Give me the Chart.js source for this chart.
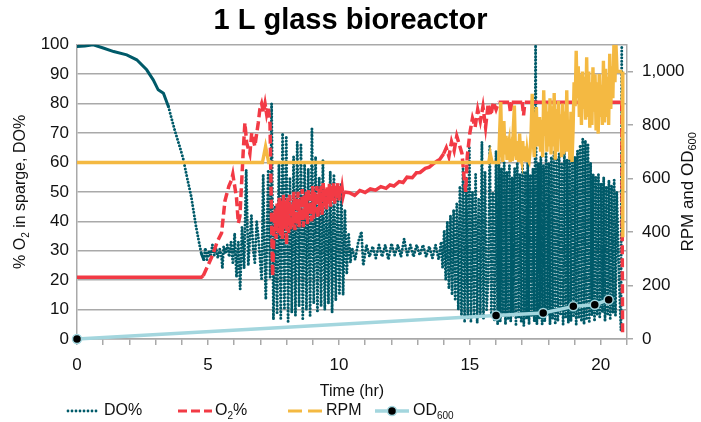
<!DOCTYPE html>
<html>
<head>
<meta charset="utf-8">
<script src="https://cdn.jsdelivr.net/npm/chart.js@4/dist/chart.umd.min.js"></script>
<style>
  html, body { margin: 0; background: #fff; }
</style>
</head>
<body>
<canvas id="chart" width="701" height="422"></canvas>
<script>
// DO% (left axis)
const doTime = [
  0, 0.3, 0.62, 1.0, 1.4, 1.9, 2.28, 2.66, 2.91, 3.1, 3.3, 3.49, 3.73, 3.9, 4.05, 4.2, 4.36, 4.55, 4.68, 4.75, 4.84,
  4.9, 4.96, 5.03, 5.1, 5.17, 5.24, 5.31, 5.38, 5.45, 5.52, 5.55, 5.6, 5.67, 5.74, 5.81, 5.88,
  5.95, 6.02, 6.09, 6.16, 6.23, 6.3, 6.38, 6.46, 6.54, 6.6, 6.66, 6.73, 6.79, 6.86, 6.92, 6.99, 7.05, 7.11, 7.16, 7.21, 7.3, 7.37, 7.43, 7.5,
  7.57, 7.64, 7.71, 7.78, 7.85, 7.92, 7.99, 8.06, 8.13, 8.2,
  8.27, 8.34, 8.41, 8.48, 8.55, 8.62, 8.69, 8.76, 8.83, 8.9,
  8.97, 9.04, 9.11, 9.18, 9.25, 9.32, 9.39, 9.46, 9.53, 9.6,
  9.67, 9.74, 9.81, 9.88, 9.95, 10.02, 10.09, 10.16, 10.23, 10.3,
  10.37, 10.44,
  10.5, 10.62, 10.74, 10.86, 10.93, 11.05, 11.17, 11.29, 11.41, 11.53,
  11.65, 11.77, 11.89, 12.01, 12.13, 12.25, 12.37, 12.49, 12.61, 12.73,
  12.85, 12.97, 13.09, 13.21, 13.33, 13.45, 13.57, 13.69, 13.81, 13.9,
  13.96, 14.02, 14.08, 14.14, 14.2, 14.26, 14.32, 14.38, 14.44, 14.5,
  14.56, 14.62, 14.68, 14.74, 14.8, 14.86, 14.92, 14.98, 15.04, 15.1,
  15.16, 15.22, 15.28, 15.34, 15.4, 15.46, 15.52, 15.58, 15.64, 15.7,
  15.76, 15.82, 15.88, 15.94, 16.0, 16.06,
  16.11, 16.16, 16.21, 16.26, 16.31, 16.36, 16.41, 16.46, 16.51, 16.56,
  16.61, 16.66, 16.71, 16.76, 16.81, 16.86, 16.91, 16.96, 17.01, 17.06,
  17.11, 17.16, 17.21, 17.26, 17.31, 17.36, 17.41, 17.46, 17.51, 17.56,
  17.61, 17.66, 17.71, 17.76, 17.81, 17.86, 17.91, 17.96, 18.01, 18.06,
  18.11, 18.16, 18.21, 18.26, 18.31, 18.36, 18.41, 18.46, 18.51, 18.56,
  18.61, 18.66, 18.71, 18.76, 18.81, 18.86, 18.91, 18.96, 19.01, 19.06,
  19.11, 19.16, 19.21, 19.26, 19.31, 19.36, 19.41, 19.46, 19.51, 19.56,
  19.61, 19.66, 19.71, 19.76, 19.81, 19.86, 19.91, 19.96, 20.01, 20.06,
  20.11, 20.16, 20.21, 20.26, 20.31, 20.36, 20.41, 20.46, 20.51, 20.56,
  20.61, 20.7, 20.77, 20.8
];
const doPct = [
  99.4, 99.6, 100, 98.9, 97.7, 96.6, 94.9, 91.5, 88.1, 84.7, 83.5, 79, 71, 66, 61.5, 55, 48.5, 38, 32, 29, 27,
  31, 27, 30, 28, 32, 28.5, 31, 27.5, 30.5, 28, 24, 31.5, 29, 32, 28, 33,
  26, 36, 21, 33, 17, 38, 24, 57.5, 25, 34, 42, 30, 26, 40, 35, 27, 20, 56, 30, 13.5, 57.5, 21, 80, 6.6,
  45, 9, 60, 7, 70, 10, 69, 6, 55, 9,
  62, 8, 67, 11, 66, 7, 60, 10, 58, 8,
  71.5, 12, 62, 9, 55, 11, 61, 10, 50, 12,
  57, 9, 56, 13, 48, 15, 53, 15, 44, 22,
  36, 26,
  31, 27, 33, 36.5, 25, 32, 28, 31.5, 27.5, 32,
  28, 32, 27, 32.5, 28.5, 32, 28, 34, 28.5, 32,
  28, 32, 28.5, 32, 28, 31.5, 27.5, 32, 27, 33,
  24, 37, 20, 40, 17, 42, 15, 44, 13, 46,
  10, 52, 8, 58, 6, 55, 7, 65, 6, 50,
  8, 56, 5.5, 48, 8, 67, 7, 57, 10, 20,
  65.5, 9, 50, 6, 64, 5,
  61, 6, 58, 8, 60, 5, 57, 7, 59, 6,
  55, 8, 58, 5, 60, 7, 56, 6, 59, 4.5,
  57, 7, 60, 5, 56, 8, 58, 6, 100, 5,
  60, 7, 62, 5, 59, 6, 63, 8, 60, 5,
  62, 7, 64, 5, 61, 6, 63, 8, 60, 5,
  64, 7, 61, 5.5, 63, 6, 60, 8, 62, 5,
  64, 7, 66, 6, 68, 5, 67.5, 7, 66, 6,
  60, 8, 56, 6, 55, 8, 56, 7, 53, 9,
  55, 6, 52, 8, 54, 7, 52, 9, 54, 8,
  50, 20, 3, 100
];

// O2% in sparge (left axis)
const o2Time = [
  0, 4.75, 4.82, 5.0, 5.2, 5.35, 5.52, 5.65, 5.8, 5.9,
  5.95, 6.09, 6.16, 6.22, 6.35, 6.41, 6.48, 6.6, 6.67, 6.79,
  6.92, 6.98, 7.05, 7.12, 7.18, 7.24, 7.3, 7.37, 7.43, 7.47,
  7.52, 7.56, 7.6, 7.64, 7.68, 7.72, 7.76, 7.8, 7.84, 7.88,
  7.92, 7.96, 8.0, 8.04, 8.08, 8.12, 8.16, 8.2, 8.24, 8.28,
  8.32, 8.36, 8.4, 8.44, 8.48, 8.52, 8.56, 8.6, 8.64, 8.68,
  8.72, 8.76, 8.8, 8.84, 8.88, 8.92, 8.96, 9.0, 9.04, 9.08,
  9.12, 9.16, 9.2, 9.24, 9.28, 9.32, 9.36, 9.4, 9.44, 9.48,
  9.52, 9.56, 9.6, 9.64, 9.68, 9.72, 9.76, 9.8, 9.84, 9.88,
  9.92, 9.96, 10.0, 10.04, 10.08, 10.12, 10.16, 10.2,
  10.4, 10.6, 10.8, 11.0, 11.2, 11.4,
  11.6, 11.8, 11.95, 12.1, 12.3, 12.45, 12.6, 12.8, 12.96, 13.1,
  13.3, 13.45, 13.6, 13.75, 13.85, 14.0, 14.1, 14.2, 14.3, 14.4,
  14.5, 14.6, 14.7, 14.78, 14.84, 14.9, 15.0, 15.1, 15.2, 15.3,
  15.4, 15.5, 15.6, 15.7, 15.8, 15.9, 16.0, 16.1, 16.5, 16.55,
  16.6, 17.0, 17.05, 17.1, 20.8, 20.83
];
const o2Pct = [
  21, 21, 21.5, 25, 29, 33, 36, 47, 52, 54,
  56, 48, 39.4, 41.7, 64.3, 73.4, 66.6, 63, 70, 65.5,
  73.4, 78, 80, 77, 80, 76.5, 79, 73, 39.4, 21.3,
  37, 44, 34, 46, 36, 48, 35, 47, 34, 49,
  38, 47, 32, 48, 36, 49, 37, 46, 38, 50,
  37, 48, 39, 50, 38, 47, 40, 51, 38, 49,
  41, 50, 39, 51, 42, 49, 40, 52, 41, 50,
  43, 52, 41, 51, 44, 52, 42, 53, 45, 51,
  44, 52, 46, 53, 45, 52, 47, 53, 46, 52,
  48, 53, 47, 52, 49, 51.5, 48.5, 50,
  49.7, 48.8, 50.5, 49.8, 51, 50.6,
  51.8, 51.2, 52.4, 52, 53.5, 53.2, 55, 54.8, 56.5, 56.6,
  58, 58.4, 59.5, 60.5, 61, 63, 65, 62, 67, 64,
  69, 66, 63, 55, 50, 62, 70, 75, 72, 78,
  74, 79, 72, 80, 76, 80.5, 78, 80.5, 80.5, 77,
  80.5, 80.5, 76, 80.5, 80.5, 2
];

// agitation RPM (right axis)
const rpmTime = [
  0, 7.08, 7.14, 7.2, 7.26, 7.32, 15.72, 15.78, 15.85,
  16.1, 16.14, 16.18, 16.22, 16.26, 16.3, 16.34, 16.38, 16.42, 16.46,
  16.5, 16.54, 16.58, 16.62, 16.66, 16.7, 16.74, 16.78, 16.82, 16.86,
  16.9, 16.94, 16.98, 17.02, 17.06, 17.1, 17.14, 17.18, 17.22, 17.26,
  17.3, 17.34, 17.38, 17.42, 17.46, 17.5, 17.54, 17.58, 17.62, 17.66,
  17.7, 17.74, 17.78, 17.82, 17.86, 17.9, 17.94, 17.98, 18.02, 18.06,
  18.1, 18.14, 18.18, 18.22, 18.26, 18.3, 18.34, 18.38, 18.42, 18.46,
  18.5, 18.54, 18.58, 18.62, 18.66, 18.7, 18.74, 18.78, 18.82, 18.86,
  18.9, 18.94, 18.98, 19.02, 19.06, 19.1, 19.14, 19.18, 19.22, 19.26,
  19.3, 19.34, 19.38, 19.42, 19.46, 19.5, 19.54, 19.58, 19.62, 19.66,
  19.7, 19.74, 19.78, 19.82, 19.86, 19.9, 19.94, 19.98, 20.02, 20.06,
  20.1, 20.14, 20.18, 20.22, 20.26, 20.3, 20.34, 20.38, 20.42, 20.46,
  20.5, 20.54, 20.58, 20.62, 20.66, 20.82, 20.84
];
const rpmVal = [
  660, 660, 690, 720, 690, 660, 660, 693, 660,
  660, 780, 886, 700, 662, 815, 690, 760, 670, 720,
  742, 662, 700, 665, 790, 873, 700, 670, 740, 662,
  768, 680, 662, 740, 665, 720, 662, 705, 670, 662,
  700, 780, 917, 740, 680, 800, 867, 720, 760, 830,
  700, 820, 680, 930, 760, 880, 700, 850, 720, 900,
  690, 870, 720, 920, 670, 860, 700, 890, 750, 840,
  680, 880, 690, 850, 700, 930, 700, 820, 670, 850,
  662, 780, 960, 870, 1078, 900, 1020, 830, 990, 800,
  1000, 860, 980, 820, 1053, 830, 1000, 790, 960, 800,
  1016, 850, 990, 780, 960, 768, 991, 830, 950, 800,
  1040, 810, 1010, 830, 980, 800, 1066, 860, 1020, 900,
  1100, 960, 1100, 1000, 1000, 1000, 380
];

// OD600 samples (right axis)
const odTime = [0, 16.0, 17.8, 18.95, 19.77, 20.3];
const odVal = [0, 88, 97, 122, 128, 147];

const FONT = '"Liberation Sans", Arial, sans-serif';
const TEAL = '#005a69';
const RED = '#f23a45';
const ORANGE = '#f4b942';
const LIGHTBLUE = '#a3d6de';
const GRID = '#a9a9a9';

Chart.defaults.font.family = FONT;
Chart.defaults.font.size = 16;
Chart.defaults.color = '#111';

const toPoints = (xs, ys) => xs.map((x, i) => ({ x: x, y: ys[i] }));
const steep = (c, k) => Math.abs(c.p1.y - c.p0.y) > k * Math.abs(c.p1.x - c.p0.x);

// text with subscripts: parts = [[text, isSub], ...]
function drawRich(ctx, parts, x, y, size, align) {
  const main = size + 'px ' + FONT;
  const sub = Math.round(size * 0.62) + 'px ' + FONT;
  let w = 0;
  parts.forEach(p => { ctx.font = p[1] ? sub : main; w += ctx.measureText(p[0]).width; });
  let cx = align === 'center' ? x - w / 2 : x;
  ctx.textBaseline = 'middle';
  ctx.textAlign = 'left';
  ctx.fillStyle = '#111';
  parts.forEach(p => {
    ctx.font = p[1] ? sub : main;
    ctx.fillText(p[0], cx, p[1] ? y + size * 0.32 : y);
    cx += ctx.measureText(p[0]).width;
  });
}

const extras = {
  id: 'extras',
  afterDraw(chart) {
    const ctx = chart.ctx;
    const a = chart.chartArea;
    const midY = (a.top + a.bottom) / 2;

    ctx.save();
    ctx.translate(21, midY);
    ctx.rotate(-Math.PI / 2);
    drawRich(ctx, [['% O'], ['2', true], [' in sparge, DO%']], 0, 0, 16, 'center');
    ctx.restore();

    ctx.save();
    ctx.translate(688, midY);
    ctx.rotate(-Math.PI / 2);
    drawRich(ctx, [['RPM and OD'], ['600', true]], 0, 0, 17, 'center');
    ctx.restore();

    // legend
    const ly = 411;
    const seg = (x0, x1, color, width, dash, cap) => {
      ctx.save();
      ctx.strokeStyle = color;
      ctx.lineWidth = width;
      ctx.setLineDash(dash);
      ctx.lineCap = cap || 'butt';
      ctx.beginPath();
      ctx.moveTo(x0, ly);
      ctx.lineTo(x1, ly);
      ctx.stroke();
      ctx.restore();
    };
    seg(68, 100, TEAL, 2.8, [0, 4], 'round');
    drawRich(ctx, [['DO%']], 104, ly, 16, 'left');
    seg(178, 212, RED, 3.2, [9, 4]);
    drawRich(ctx, [['O'], ['2', true], ['%']], 215, ly, 16, 'left');
    seg(288, 322, ORANGE, 3, [14, 6]);
    drawRich(ctx, [['RPM']], 326, ly, 16, 'left');
    seg(375, 409, LIGHTBLUE, 3.5, []);
    ctx.save();
    ctx.beginPath();
    ctx.arc(392, ly, 4.5, 0, Math.PI * 2);
    ctx.fillStyle = '#000';
    ctx.fill();
    ctx.lineWidth = 1.5;
    ctx.strokeStyle = LIGHTBLUE;
    ctx.stroke();
    ctx.restore();
    drawRich(ctx, [['OD'], ['600', true]], 413, ly, 16, 'left');
  }
};

new Chart(document.getElementById('chart'), {
  type: 'line',
  data: {
    datasets: [
      {
        label: 'OD600',
        data: toPoints(odTime, odVal),
        yAxisID: 'y2',
        borderColor: LIGHTBLUE,
        borderWidth: 3.5,
        pointRadius: 4.5,
        pointBackgroundColor: '#000',
        pointBorderColor: LIGHTBLUE,
        pointBorderWidth: 1.5,
        clip: false,
        order: 1
      },
      {
        label: 'RPM',
        data: toPoints(rpmTime, rpmVal),
        yAxisID: 'y2',
        borderColor: ORANGE,
        borderWidth: 3.4,
        pointRadius: 0,
        segment: {
          borderDash: c => (steep(c, 2) && Math.abs(c.p1.y - c.p0.y) > 100) ? [14, 6] : undefined
        },
        order: 2
      },
      {
        label: 'O2%',
        data: toPoints(o2Time, o2Pct),
        yAxisID: 'y',
        borderColor: RED,
        borderWidth: 3.5,
        pointRadius: 0,
        segment: {
          borderDash: c => steep(c, 1.5) ? [9, 4] : undefined
        },
        order: 3
      },
      {
        label: 'DO%',
        data: toPoints(doTime, doPct),
        yAxisID: 'y',
        borderColor: TEAL,
        borderWidth: 3,
        borderDash: [0, 3.4],
        borderCapStyle: 'round',
        pointRadius: 0,
        segment: {
          borderDash: c => steep(c, 2.8) ? undefined : []
        },
        order: 4
      }
    ]
  },
  options: {
    responsive: false,
    animation: false,
    layout: { padding: 0 },
    plugins: {
      legend: { display: false },
      tooltip: { enabled: false },
      title: {
        display: true,
        text: '1 L glass bioreactor',
        color: '#000',
        font: { size: 29, weight: 'bold', family: FONT },
        padding: { top: 4, bottom: 6 }
      }
    },
    scales: {
      x: {
        type: 'linear',
        min: 0,
        max: 21,
        afterFit: s => { s.height = 83; },
        ticks: {
          stepSize: 1,
          autoSkip: false,
          maxRotation: 0,
          padding: 10,
          font: { size: 17 },
          callback: v => (v % 5 === 0 ? v : '')
        },
        grid: { drawOnChartArea: false, tickLength: 6, color: GRID, lineWidth: 1.5 },
        border: { color: GRID, width: 1.5 },
        title: {
          display: true,
          text: 'Time (hr)',
          font: { size: 16 },
          padding: { top: 0, bottom: 21 }
        }
      },
      y: {
        position: 'left',
        min: 0,
        max: 100,
        afterFit: s => { s.width = 77; },
        ticks: { stepSize: 10, padding: 8, font: { size: 17 } },
        grid: { color: GRID, lineWidth: 1.5, drawTicks: false },
        border: { color: GRID, width: 1.5 }
      },
      y2: {
        position: 'right',
        min: 0,
        max: 1100,
        afterFit: s => { s.width = 74; },
        ticks: {
          stepSize: 200,
          includeBounds: false,
          padding: 9,
          font: { size: 17 },
          callback: v => v.toLocaleString('en-US')
        },
        grid: { drawOnChartArea: false, tickLength: 6, color: GRID, lineWidth: 1.5 },
        border: { color: GRID, width: 1.5 }
      }
    }
  },
  plugins: [extras]
});
</script>
</body>
</html>
